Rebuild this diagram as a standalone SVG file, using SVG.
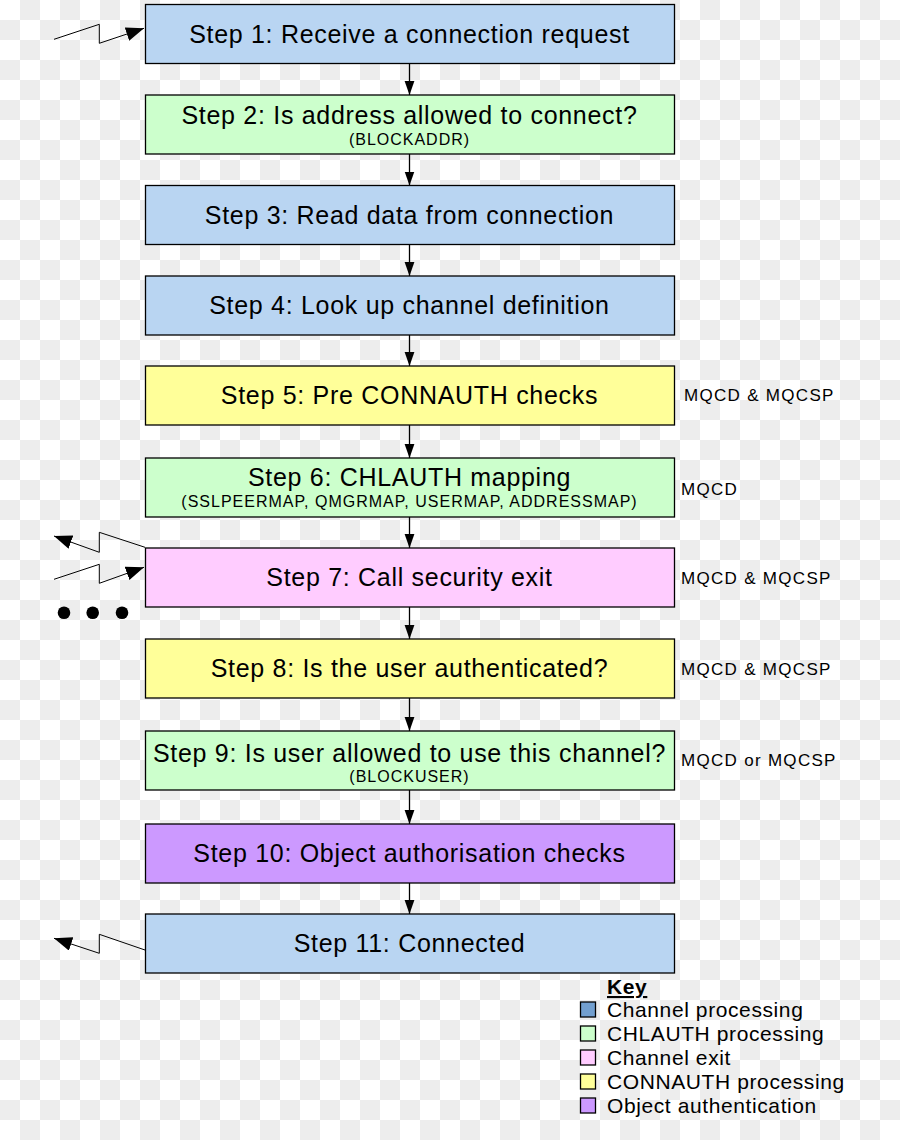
<svg xmlns="http://www.w3.org/2000/svg" width="900" height="1140" viewBox="0 0 900 1140">
<defs>
<pattern id="chk" x="0" y="0" width="40" height="40" patternUnits="userSpaceOnUse">
<rect width="40" height="40" fill="#ffffff"/>
<rect x="20" y="0" width="20" height="20" fill="#ededed"/>
<rect x="0" y="20" width="20" height="20" fill="#ededed"/>
</pattern>
<marker id="ah" markerWidth="14" markerHeight="20" refX="20" refY="7" viewBox="0 0 20 14" orient="auto" markerUnits="userSpaceOnUse">
<path d="M0,0 L20,7 L0,14 Z" fill="#000"/>
</marker>
<marker id="ahs" markerWidth="18" markerHeight="14" refX="18" refY="7" viewBox="0 0 18 14" orient="auto" markerUnits="userSpaceOnUse">
<path d="M0,0 L18,7 L0,14 Z" fill="#000"/>
</marker>
<style>
.box{stroke:#000;stroke-width:1.3}
.blue{fill:#b9d5f2}
.green{fill:#ccffcc}
.yellow{fill:#ffff99}
.pink{fill:#ffccff}
.purple{fill:#cc99ff}
.t{font-family:"Liberation Sans",Arial,sans-serif;font-size:25px;letter-spacing:0.7px;text-anchor:middle;fill:#000}
.s{font-family:"Liberation Sans",Arial,sans-serif;font-size:16px;letter-spacing:1px;text-anchor:middle;fill:#000}
.side{font-family:"Liberation Sans",Arial,sans-serif;font-size:17px;letter-spacing:1.3px;fill:#000}
.key{font-family:"Liberation Sans",Arial,sans-serif;font-size:21px;letter-spacing:0.6px;fill:#000}
.conn{stroke:#000;stroke-width:1.3;fill:none}
.zig{stroke:#000;stroke-width:1;fill:none}
</style>
</defs>
<rect width="900" height="1140" fill="url(#chk)"/>

<g id="connectors">
<line class="conn" x1="409.5" y1="63.5" x2="409.5" y2="95" marker-end="url(#ah)"/>
<line class="conn" x1="409.5" y1="154" x2="409.5" y2="185.5" marker-end="url(#ah)"/>
<line class="conn" x1="409.5" y1="244.5" x2="409.5" y2="276" marker-end="url(#ah)"/>
<line class="conn" x1="409.5" y1="335" x2="409.5" y2="366" marker-end="url(#ah)"/>
<line class="conn" x1="409.5" y1="425" x2="409.5" y2="458" marker-end="url(#ah)"/>
<line class="conn" x1="409.5" y1="517" x2="409.5" y2="548" marker-end="url(#ah)"/>
<line class="conn" x1="409.5" y1="607" x2="409.5" y2="639" marker-end="url(#ah)"/>
<line class="conn" x1="409.5" y1="698" x2="409.5" y2="731" marker-end="url(#ah)"/>
<line class="conn" x1="409.5" y1="790" x2="409.5" y2="824" marker-end="url(#ah)"/>
<line class="conn" x1="409.5" y1="883" x2="409.5" y2="914" marker-end="url(#ah)"/>
<polyline class="zig" points="54,39.3 99.3,24.3 99.3,43.3 144,28.3" marker-end="url(#ahs)"/>
<polyline class="zig" points="145,547.3 99.3,532.3 99.3,552.3 54,536" marker-end="url(#ahs)"/>
<polyline class="zig" points="54,579.3 99.3,564.3 99.3,583.3 144,567.3" marker-end="url(#ahs)"/>
<polyline class="zig" points="145,950 99.3,934.3 99.3,953.3 54,938.3" marker-end="url(#ahs)"/>
<circle cx="64" cy="612.7" r="6.3" fill="#000"/>
<circle cx="92.7" cy="612.7" r="6.3" fill="#000"/>
<circle cx="122" cy="612.7" r="6.3" fill="#000"/>
</g>

<g id="step1"><rect class="box blue" x="145.5" y="4.5" width="529" height="59"/><text class="t" x="409.5" y="43">Step 1: Receive a connection request</text></g>
<g id="step2"><rect class="box green" x="145.5" y="95" width="529" height="59"/><text class="t" x="409.5" y="124">Step 2: Is address allowed to connect?</text><text class="s" x="409.5" y="145">(BLOCKADDR)</text></g>
<g id="step3"><rect class="box blue" x="145.5" y="185.5" width="529" height="59"/><text class="t" x="409.5" y="224">Step 3: Read data from connection</text></g>
<g id="step4"><rect class="box blue" x="145.5" y="276" width="529" height="59"/><text class="t" x="409.5" y="314">Step 4: Look up channel definition</text></g>
<g id="step5"><rect class="box yellow" x="145.5" y="366" width="529" height="59"/><text class="t" x="409.5" y="404">Step 5: Pre CONNAUTH checks</text><text class="side" x="684" y="401">MQCD &amp; MQCSP</text></g>
<g id="step6"><rect class="box green" x="145.5" y="458" width="529" height="59"/><text class="t" x="409.5" y="486">Step 6: CHLAUTH mapping</text><text class="s" x="409.5" y="507">(SSLPEERMAP, QMGRMAP, USERMAP, ADDRESSMAP)</text><text class="side" x="681" y="495">MQCD</text></g>
<g id="step7"><rect class="box pink" x="145.5" y="548" width="529" height="59"/><text class="t" x="409.5" y="586">Step 7: Call security exit</text><text class="side" x="681" y="584">MQCD &amp; MQCSP</text></g>
<g id="step8"><rect class="box yellow" x="145.5" y="639" width="529" height="59"/><text class="t" x="409.5" y="677">Step 8: Is the user authenticated?</text><text class="side" x="681" y="675">MQCD &amp; MQCSP</text></g>
<g id="step9"><rect class="box green" x="145.5" y="731" width="529" height="59"/><text class="t" x="409.5" y="762">Step 9: Is user allowed to use this channel?</text><text class="s" x="409.5" y="782">(BLOCKUSER)</text><text class="side" x="681" y="766">MQCD or MQCSP</text></g>
<g id="step10"><rect class="box purple" x="145.5" y="824" width="529" height="59"/><text class="t" x="409.5" y="862">Step 10: Object authorisation checks</text></g>
<g id="step11"><rect class="box blue" x="145.5" y="914" width="529" height="59"/><text class="t" x="409.5" y="952">Step 11: Connected</text></g>

<g id="legend">
<text class="key" x="607" y="994" font-weight="bold" text-decoration="underline" letter-spacing="0.3">Key</text>
<rect class="box" x="580.5" y="1002" width="15" height="15" fill="#729fcf"/>
<text class="key" x="607" y="1017">Channel processing</text>
<rect class="box" x="580.5" y="1026" width="15" height="15" fill="#ccffcc"/>
<text class="key" x="607" y="1041">CHLAUTH processing</text>
<rect class="box" x="580.5" y="1050" width="15" height="15" fill="#ffccff"/>
<text class="key" x="607" y="1065">Channel exit</text>
<rect class="box" x="580.5" y="1074" width="15" height="15" fill="#ffff99"/>
<text class="key" x="607" y="1089">CONNAUTH processing</text>
<rect class="box" x="580.5" y="1098" width="15" height="15" fill="#cc99ff"/>
<text class="key" x="607" y="1113">Object authentication</text>
</g>
</svg>
